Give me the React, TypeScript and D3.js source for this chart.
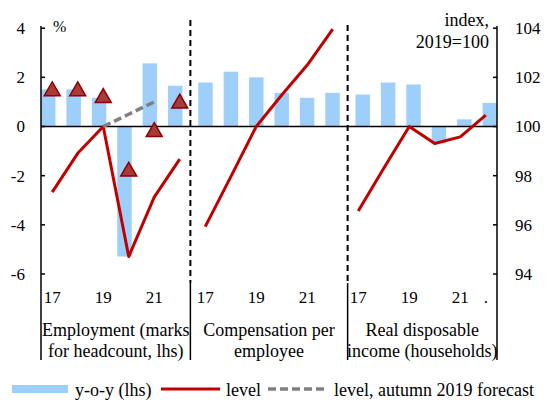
import React from "react";
import * as d3 from "d3";

const years = ["17", "18", "19", "20", "21", "22"];
const panels = ["employment", "compensation", "income"];
const panelLabels = [
  ["Employment (marks", "for headcount, lhs)"],
  ["Compensation per", "employee"],
  ["Real disposable", "income (households)"],
];
const yearTickLabels = [
  ["17", "", "19", "", "21", ""],
  ["17", "", "19", "", "21", ""],
  ["17", "", "19", "", "21", "."],
];

// y-o-y growth, % (lhs)
const yoyEmployment = [1.51, 1.51, 1.17, -5.29, 2.57, 1.66];
const yoyCompensation = [1.79, 2.23, 2.0, 1.37, 1.17, 1.37];
const yoyIncome = [1.3, 1.79, 1.71, -0.69, 0.29, 0.96];

// level, index 2019=100 (rhs)
const levelEmployment = [97.33, 98.91, 100.0, 94.71, 97.13, 98.67];
const levelCompensation = [95.93, 97.95, 100.0, 101.28, 102.5, 103.96];
const levelIncome = [96.56, 98.3, 100.0, 99.31, 99.58, 100.46];

// headcount markers (lhs)
const headcountEmployment = [1.48, 1.48, 1.21, -1.79, -0.18, 0.98];

// level, autumn 2019 forecast
const forecastYears = ["19", "20", "21"];
const forecastEmployment = [100.0, 100.5, 101.0];

const leftTicks = [4, 2, 0, -2, -4, -6];
const rightTicks = [104, 102, 100, 98, 96, 94];

const legendItems = ["y-o-y (lhs)", "level", "level, autumn 2019 forecast"];

const yoySeries = [yoyEmployment, yoyCompensation, yoyIncome];
const levelSeries = [levelEmployment, levelCompensation, levelIncome];

const FONT = "'Liberation Serif', 'Times New Roman', serif";
const BAR = "#9ecffb";
const RED = "#c00000";
const GREY = "#808080";

export default function App() {
  const W = 546;
  const H = 401;
  const plotL = 41;
  const plotR = 497;

  const yLeft = d3.scaleLinear().domain([-6, 4]).range([274, 28.2]);
  const yRight = d3.scaleLinear().domain([94, 104]).range([274, 28.2]);

  const xPanel = d3.scaleBand<string>().domain(panels).range([plotL, plotR]).paddingInner(0.1);
  const xBar = d3
    .scaleBand<string>()
    .domain(years)
    .range([0, xPanel.bandwidth()])
    .paddingInner(0.43);

  const keys: string[] = [];
  panels.forEach((p) => years.forEach((y) => keys.push(p + "-" + y)));
  const xLine = d3.scalePoint<string>().domain(keys).range([plotL, plotR]).padding(0.44);

  const gap = xPanel.step() - xPanel.bandwidth();
  const separators = panels.slice(1).map((p) => (xPanel(p) as number) - gap / 2);
  const bounds = [plotL, ...separators, plotR];

  const lineGen = d3
    .line<[string, number]>()
    .x((d) => xLine(d[0]) as number)
    .y((d) => yRight(d[1]));

  const tri = d3.symbol().type(d3.symbolTriangle).size(110)();

  return (
    <svg
      width={W}
      height={H}
      style={{ position: "absolute", left: 0, top: 0, background: "#fff" }}
      fontFamily={FONT}
    >
      {/* bars */}
      {panels.map((p, pi) =>
        years.map((y, i) => {
          const v = yoySeries[pi][i];
          const x = (xPanel(p) as number) + (xBar(y) as number);
          return (
            <rect
              key={p + y}
              x={x}
              y={yLeft(Math.max(0, v))}
              width={xBar.bandwidth()}
              height={Math.abs(yLeft(v) - yLeft(0))}
              fill={BAR}
            />
          );
        })
      )}

      {/* zero line */}
      <line x1={plotL} x2={plotR} y1={yLeft(0)} y2={yLeft(0)} stroke="#000" strokeWidth={1.5} />

      {/* separators */}
      {separators.map((sx, i) => (
        <g key={i}>
          <line x1={sx} x2={sx} y1={i === 0 ? 20 : 25} y2={283} stroke="#000" strokeWidth={2} strokeDasharray="6,4" />
          <line x1={sx} x2={sx} y1={283} y2={360} stroke="#000" strokeWidth={1.5} />
        </g>
      ))}

      {/* axes */}
      <line x1={plotL} x2={plotL} y1={26} y2={360} stroke="#000" strokeWidth={1.5} />
      <line x1={plotR} x2={plotR} y1={26} y2={360} stroke="#000" strokeWidth={1.5} />
      {leftTicks.map((t) => (
        <g key={"l" + t}>
          <line x1={plotL} x2={plotL + 4} y1={yLeft(t)} y2={yLeft(t)} stroke="#000" strokeWidth={1.5} />
          <text x={25} y={yLeft(t)} dy="0.35em" textAnchor="end" fontSize={17}>
            {t}
          </text>
        </g>
      ))}
      {rightTicks.map((t) => (
        <g key={"r" + t}>
          <line x1={plotR - 4} x2={plotR} y1={yRight(t)} y2={yRight(t)} stroke="#000" strokeWidth={1.5} />
          <text x={515} y={yRight(t)} dy="0.35em" textAnchor="start" fontSize={17}>
            {t}
          </text>
        </g>
      ))}

      {/* level lines */}
      {panels.map((p, pi) => (
        <path
          key={"line" + p}
          d={lineGen(years.map((y, i) => [p + "-" + y, levelSeries[pi][i]] as [string, number])) as string}
          fill="none"
          stroke={RED}
          strokeWidth={3}
          strokeLinejoin="round"
        />
      ))}

      {/* forecast */}
      <path
        d={lineGen(forecastYears.map((y, i) => ["employment-" + y, forecastEmployment[i]] as [string, number])) as string}
        fill="none"
        stroke={GREY}
        strokeWidth={3.5}
        strokeDasharray="8,4"
      />

      {/* headcount markers */}
      {years.map((y, i) => (
        <path
          key={"tri" + y}
          d={tri as string}
          transform={`translate(${xLine("employment-" + y)},${yLeft(headcountEmployment[i]) + 1})`}
          fill="#a83a3a"
          stroke="#8b0000"
          strokeWidth={1.5}
        />
      ))}

      {/* titles */}
      <text x={53} y={32} fontSize={16}>%</text>
      <text x={489} y={26} fontSize={18} textAnchor="end">index,</text>
      <text x={489} y={48} fontSize={18} textAnchor="end">2019=100</text>

      {/* x tick labels */}
      {panels.map((p, pi) =>
        years.map((y, i) =>
          yearTickLabels[pi][i] ? (
            <text
              key={"xt" + p + y}
              x={xLine(p + "-" + y) as number}
              y={303}
              fontSize={17}
              textAnchor="middle"
            >
              {yearTickLabels[pi][i]}
            </text>
          ) : null
        )
      )}

      {/* category labels */}
      {panelLabels.map((lines, pi) => {
        const cx = (bounds[pi] + bounds[pi + 1]) / 2;
        return lines.map((ln, li) => (
          <text key={"cl" + pi + li} x={cx} y={336 + li * 21} fontSize={18} textAnchor="middle">
            {ln}
          </text>
        ));
      })}

      {/* legend */}
      <rect x={12} y={385} width={56} height={8} fill={BAR} />
      <text x={75} y={396} fontSize={18}>{legendItems[0]}</text>
      <line x1={161} x2={220} y1={389} y2={389} stroke={RED} strokeWidth={3} />
      <text x={226} y={396} fontSize={18}>{legendItems[1]}</text>
      <line x1={268} x2={327} y1={389} y2={389} stroke={GREY} strokeWidth={3.5} strokeDasharray="8,4" />
      <text x={334} y={396} fontSize={18}>{legendItems[2]}</text>
    </svg>
  );
}
